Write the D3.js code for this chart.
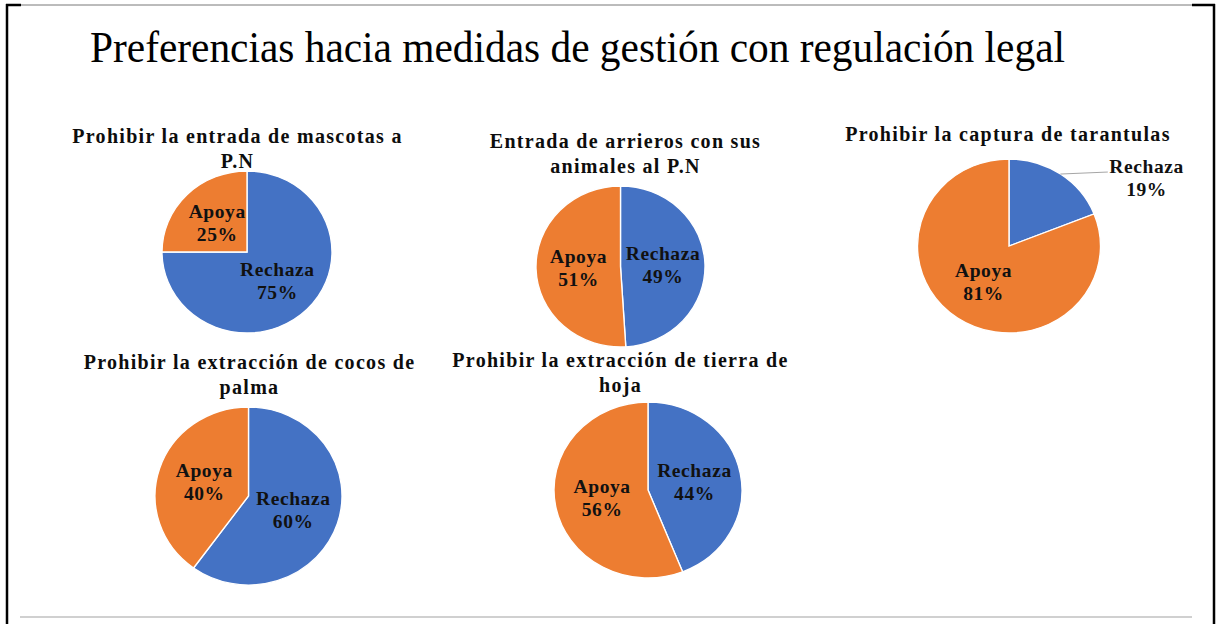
<!DOCTYPE html>
<html>
<head>
<meta charset="utf-8">
<script src="https://cdn.jsdelivr.net/npm/d3@7"></script>
<style>
  body { margin: 0; background: #fff; }
  svg { display: block; }
</style>
</head>
<body>
<div id="chart"></div>
<script>
const mainTitle = "Preferencias hacia medidas de gestión con regulación legal";

// chart titles (one entry per line)
const chartTitles = [
  ["Prohibir la entrada de mascotas a", "P.N"],
  ["Entrada de arrieros con sus", "animales al P.N"],
  ["Prohibir la captura de tarantulas"],
  ["Prohibir la extracción de cocos de", "palma"],
  ["Prohibir la extracción de tierra de", "hoja"]
];

const categories = ["Rechaza", "Apoya"];
const rechaza = [75, 49, 19, 60, 44];
const apoya = [25, 51, 81, 40, 56];

const width = 1220, height = 624;
const colors = d3.scaleOrdinal().domain(categories).range(["#4472C4", "#ED7D31"]);

// layout of each little pie: center, radii (slightly wide), title anchor
const layout = [
  {cx: 247, cy: 252, rx: 85, ry: 81, tx: 237, ty: 143},
  {cx: 620.5, cy: 266.5, rx: 84.5, ry: 80.5, tx: 625, ty: 148},
  {cx: 1009, cy: 246, rx: 91.5, ry: 87, tx: 1007.5, ty: 141},
  {cx: 248.5, cy: 496, rx: 93.5, ry: 89, tx: 249, ty: 369},
  {cx: 648, cy: 490, rx: 94, ry: 88, tx: 620, ty: 367}
];

const serif = "'Liberation Serif', 'Times New Roman', serif";

const svg = d3.select("#chart")
  .append("svg")
  .attr("width", width)
  .attr("height", height)
  .attr("viewBox", [0, 0, width, height]);

// frame
svg.append("line").attr("x1", 6).attr("x2", 1215).attr("y1", 5).attr("y2", 5)
  .attr("stroke", "#555").attr("stroke-width", 0.8);
svg.append("line").attr("x1", 6).attr("x2", 21).attr("y1", 5).attr("y2", 5)
  .attr("stroke", "#000").attr("stroke-width", 2.5);
svg.append("line").attr("x1", 1192).attr("x2", 1215).attr("y1", 5).attr("y2", 5)
  .attr("stroke", "#000").attr("stroke-width", 2.5);
svg.append("line").attr("x1", 7).attr("x2", 7).attr("y1", 4).attr("y2", height)
  .attr("stroke", "#000").attr("stroke-width", 2.5);
svg.append("line").attr("x1", 1214).attr("x2", 1214).attr("y1", 4).attr("y2", height)
  .attr("stroke", "#000").attr("stroke-width", 2.5);
svg.append("line").attr("x1", 20).attr("x2", 1192).attr("y1", 617).attr("y2", 617)
  .attr("stroke", "#d0d0d0").attr("stroke-width", 2);

// main title
svg.append("text")
  .attr("x", 90)
  .attr("y", 62)
  .attr("font-family", serif)
  .attr("font-size", 44)
  .attr("textLength", 975)
  .attr("lengthAdjust", "spacingAndGlyphs")
  .attr("fill", "#000")
  .text(mainTitle);

const pie = d3.pie().sort(null).value(d => d.value);

chartTitles.forEach(function (lines, i) {
  const L = layout[i];
  const data = [
    {cat: categories[0], value: rechaza[i]},
    {cat: categories[1], value: apoya[i]}
  ];
  const arcs = pie(data);

  // title
  const t = svg.append("text")
    .attr("text-anchor", "middle")
    .attr("font-family", serif)
    .attr("font-weight", "bold")
    .attr("font-size", 20)
    .attr("fill", "#0d0d0d")
    .style("letter-spacing", "1.3px");
  lines.forEach(function (ln, k) {
    t.append("tspan").attr("x", L.tx + 0.5).attr("y", L.ty + k * 24.5).text(ln);
  });

  // slices, drawn as a circle of radius ry stretched horizontally
  const arc = d3.arc().innerRadius(0).outerRadius(L.ry);
  svg.append("g")
    .attr("transform", "translate(" + L.cx + "," + L.cy + ") scale(" + (L.rx / L.ry) + ",1)")
    .selectAll("path")
    .data(arcs)
    .join("path")
    .attr("d", arc)
    .attr("fill", d => colors(d.data.cat))
    .attr("stroke", "#fff")
    .attr("stroke-width", 1.3);

  // labels
  arcs.forEach(function (a) {
    const mid = (a.startAngle + a.endAngle) / 2;
    const sx = Math.sin(mid), sy = -Math.cos(mid);
    let lx, anchorY;
    const label = svg.append("text")
      .attr("text-anchor", "middle")
      .attr("font-family", serif)
      .attr("font-weight", "bold")
      .attr("font-size", 19.5)
      .attr("fill", "#111")
      .style("letter-spacing", "0.6px");

    if (a.data.value < 20) {
      // small slice: label outside with leader line
      const ex = L.cx + sx * L.rx, ey = L.cy + sy * L.ry;
      svg.append("line")
        .attr("x1", ex).attr("y1", ey)
        .attr("x2", L.cx + L.rx * 1.08).attr("y2", ey - 2)
        .attr("stroke", "#a6a6a6").attr("stroke-width", 1);
      lx = L.cx + L.rx * 1.5;
      anchorY = ey - 1;
    } else {
      lx = L.cx + sx * L.rx * 0.5;
      anchorY = L.cy + sy * L.ry * 0.5 - 5;
    }
    label.append("tspan").attr("x", lx + 0.3).attr("y", anchorY).text(a.data.cat);
    label.append("tspan").attr("x", lx + 0.3).attr("y", anchorY + 23).text(a.data.value + "%");
  });
});
</script>
</body>
</html>
